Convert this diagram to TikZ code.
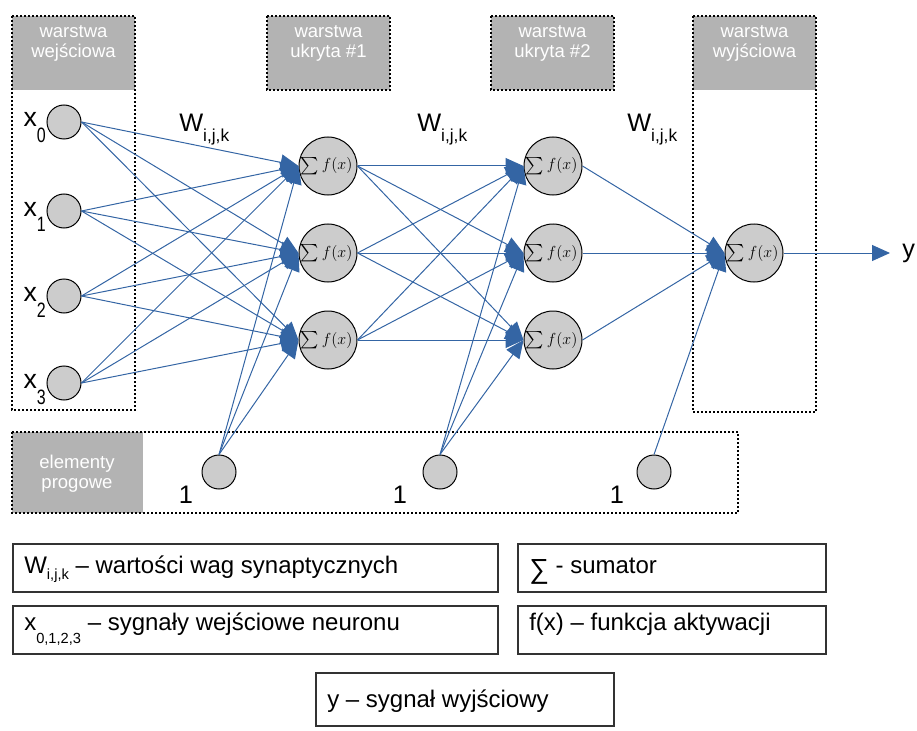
\documentclass[tikz,border=0pt]{standalone}
\usepackage{fontspec}
\setmainfont{Liberation Sans}
\usetikzlibrary{arrows.meta}
\definecolor{edgeblue}{HTML}{3465A4}
\definecolor{headgray}{HTML}{B3B3B3}
\definecolor{nodegray}{HTML}{CCCCCC}

% sum symbol followed by the activation function, as printed inside each neuron
\newcommand{\sumf}{$\vcenter{\hbox{\scalebox{1.3}{$\textstyle\sum$}}}\,f(x)$\kern2pt}
\newcommand{\tallsub}[1]{\scalebox{1}[1.3]{\fontsize{12}{12}\selectfont #1}}

\begin{document}
\begin{tikzpicture}[x=0.75pt,y=-0.75pt,
  dotbox/.style={draw=black,line width=1.5pt,dash pattern=on 1.5pt off 1.5pt},
  headtext/.style={text=white,font=\fontsize{13.9}{15}\selectfont,align=center,inner sep=0pt},
  inneuron/.style={circle,draw=black,fill=nodegray,line width=0.75pt,minimum size=25.5pt,inner sep=0pt},
  sumneuron/.style={circle,draw=black,fill=nodegray,line width=0.75pt,minimum size=43.5pt,inner sep=0pt,text=black,font=\fontsize{13}{15}\selectfont},
  syn/.style={draw=edgeblue,line width=0.75pt,-{Triangle[length=13.5pt,width=12pt]}},
  biglabel/.style={font=\fontsize{19}{20}\selectfont,inner sep=0pt},
  legendbox/.style={draw=black!80,line width=0.8pt},
  legendtext/.style={font=\fontsize{18}{20}\selectfont,anchor=base west,inner sep=0pt},
]
\useasboundingbox (0,0) rectangle (917,731);

% layer frames and headers
\fill[headgray] (12,16) rectangle (135,90);
\draw[dotbox] (12,16) rectangle (135,410);
\node[headtext] (hin) at (73.5,43) {warstwa\\wejściowa};

\fill[headgray] (267,16) rectangle (390,90);
\draw[dotbox] (267,16) rectangle (390,90);
\node[headtext] (hh1) at (328.5,43) {warstwa\\ukryta \#1};

\fill[headgray] (491,16) rectangle (614,90);
\draw[dotbox] (491,16) rectangle (614,90);
\node[headtext] (hh2) at (552.5,43) {warstwa\\ukryta \#2};

\fill[headgray] (693,16) rectangle (816,90);
\draw[dotbox] (693,16) rectangle (816,412);
\node[headtext] (hout) at (754.5,43) {warstwa\\wyjściowa};

\fill[headgray] (12,432) rectangle (143,513);
\draw[dotbox] (12,432) rectangle (738,513);
\node[headtext] (hbias) at (77,474) {elementy\\progowe};

% neurons
\node[inneuron] (i0) at (64,122) {};
\node[inneuron] (i1) at (64,211) {};
\node[inneuron] (i2) at (64,296) {};
\node[inneuron] (i3) at (64,383) {};

\node[sumneuron] (h1a) at (328,166) {\sumf};
\node[sumneuron] (h1b) at (328,253) {\sumf};
\node[sumneuron] (h1c) at (328,340) {\sumf};
\node[sumneuron] (h2a) at (553,166) {\sumf};
\node[sumneuron] (h2b) at (553,253) {\sumf};
\node[sumneuron] (h2c) at (553,340) {\sumf};
\node[sumneuron] (out) at (754,253) {\sumf};

\node[inneuron] (b1) at (219,472) {};
\node[inneuron] (b2) at (440,472) {};
\node[inneuron] (b3) at (654,472) {};

% labels of inputs, weights and bias units
\node[biglabel,font=\fontsize{20}{20}\selectfont,anchor=base east] (lx0) at (46,127) {x\raisebox{-12pt}{\tallsub{0}}};
\node[biglabel,font=\fontsize{20}{20}\selectfont,anchor=base east] (lx1) at (46,216) {x\raisebox{-12pt}{\tallsub{1}}};
\node[biglabel,font=\fontsize{20}{20}\selectfont,anchor=base east] (lx2) at (46,301) {x\raisebox{-12pt}{\tallsub{2}}};
\node[biglabel,font=\fontsize{20}{20}\selectfont,anchor=base east] (lx3) at (46,388) {x\raisebox{-12pt}{\tallsub{3}}};

\node[biglabel,anchor=base west] (w1) at (179,132) {W\raisebox{-7.5pt}{\fontsize{13}{13}\selectfont i,j,k}};
\node[biglabel,anchor=base west] (w2) at (417,132) {W\raisebox{-7.5pt}{\fontsize{13}{13}\selectfont i,j,k}};
\node[biglabel,anchor=base west] (w3) at (627,132) {W\raisebox{-7.5pt}{\fontsize{13}{13}\selectfont i,j,k}};

\node[biglabel,anchor=base] (one1) at (186,503) {1};
\node[biglabel,anchor=base] (one2) at (400,503) {1};
\node[biglabel,anchor=base] (one3) at (617,503) {1};

% synapses
\foreach \s in {i0,i1,i2,i3}
  \foreach \t in {h1a,h1b,h1c}
    \draw[syn] (\s.east) -- (\t.west);
\foreach \t in {h1a,h1b,h1c}
  \draw[syn] (b1.north) -- (\t.west);
\foreach \s in {h1a,h1b,h1c}
  \foreach \t in {h2a,h2b,h2c}
    \draw[syn] (\s.east) -- (\t.west);
\foreach \t in {h2a,h2b,h2c}
  \draw[syn] (b2.north) -- (\t.west);
\foreach \s in {h2a,h2b,h2c}
  \draw[syn] (\s.east) -- (out.west);
\draw[syn] (b3.north) -- (out.west);

% network output
\coordinate (yend) at (890,253);
\draw[syn] (out.east) -- (yend);
\node[biglabel,anchor=base west] (ylab) at (902,257) {y};

% legend
\draw[legendbox] (13,544) rectangle (498,592);
\node[legendtext] (leg1) at (24,573) {W\raisebox{-5pt}{\fontsize{11}{11}\selectfont i,j,k} – wartości wag synaptycznych};
\draw[legendbox] (13,606) rectangle (498,654);
\node[legendtext] (leg2) at (24,630) {x\raisebox{-10pt}{\fontsize{11}{11}\selectfont 0,1,2,3} – sygnały wejściowe neuronu};
\draw[legendbox] (518,544) rectangle (826,592);
\node[legendtext] (leg3) at (529,573) {\raisebox{-4pt}{\scalebox{1.15}{∑}} - sumator};
\draw[legendbox] (518,606) rectangle (826,654);
\node[legendtext] (leg4) at (529,630) {f(x) – funkcja aktywacji};
\draw[legendbox] (316,673) rectangle (614,726);
\node[legendtext] (leg5) at (327,707) {y – sygnał wyjściowy};
\end{tikzpicture}
\end{document}
